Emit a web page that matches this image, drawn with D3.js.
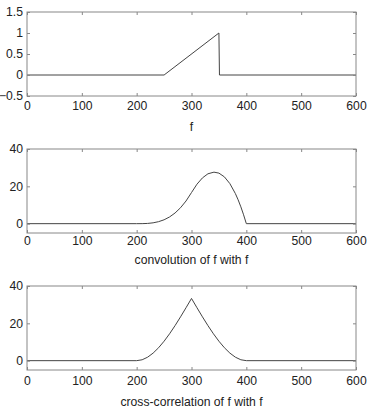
<!DOCTYPE html>
<html>
<head>
<meta charset="utf-8">
<script src="https://cdn.jsdelivr.net/npm/d3@7"></script>
<style>
  body { margin: 0; background: #fff; }
  svg { display: block; }
  text { font-family: "Liberation Sans", Arial, Helvetica, sans-serif; fill: #222; }
  .label { font-size: 12.2px; }
</style>
</head>
<body>
<svg width="371" height="416"></svg>
<script>
// f: ramp from 250 to 350 then drop
const fX = [0, 250, 350, 351, 600];
const fY = [0, 0, 1, 0, 0];

// convolution of f with f
const convX = [0, 200, 210, 220, 230, 240, 250, 260, 270, 280, 290, 300, 310, 320, 330, 341, 350, 360, 370, 380, 385, 390, 395, 400, 600];
const convY = [0, 0, 0.02, 0.13, 0.45, 1.07, 2.08, 3.6, 5.72, 8.53, 12.15, 16.67, 21.15, 24.53, 26.72, 27.6, 27.08, 25.07, 21.45, 16.13, 12.81, 9.02, 4.75, 0, 0];

// cross-correlation of f with f
const xcorrX = [0, 200, 210, 220, 230, 240, 250, 260, 270, 280, 290, 300, 310, 320, 330, 340, 350, 360, 370, 380, 390, 400, 600];
const xcorrY = [0, 0, 0.48, 1.87, 4.05, 6.93, 10.42, 14.4, 18.78, 23.47, 28.35, 33.33, 28.35, 23.47, 18.78, 14.4, 10.42, 6.93, 4.05, 1.87, 0.48, 0, 0];

const xTicks = [0, 100, 200, 300, 400, 500, 600];

const panels = [
    { xs: fX, ys: fY, top: 12, domain: [-0.5, 1.5], yTicks: [-0.5, 0, 0.5, 1, 1.5], label: 'f', tickGap: 17, labelGap: 35 },
    { xs: convX, ys: convY, top: 149, domain: [-5, 40], yTicks: [0, 20, 40], label: 'convolution of f with f', tickGap: 15, labelGap: 31 },
    { xs: xcorrX, ys: xcorrY, top: 286, domain: [-5, 40], yTicks: [0, 20, 40], label: 'cross-correlation of f with f', tickGap: 18, labelGap: 36 }
];

const svg = d3.select('svg');
const left = 27;
const width = 356 - left;
const height = 84;
const fontSize = '12.2px';

const xScale = d3.scaleLinear().domain([0, 600]).range([0, width]);

panels.forEach((p) => {
    const g = svg.append('g').attr('transform', `translate(${left}, ${p.top})`);
    const yScale = d3.scaleLinear().domain(p.domain).range([height, 0]);

    const line = d3.line()
        .x((d, i) => xScale(p.xs[i]))
        .y((d) => yScale(d));

    g.append('path')
        .datum(p.ys)
        .attr('d', line)
        .attr('fill', 'none')
        .attr('stroke', '#444')
        .attr('stroke-width', 1);

    // bottom axis with labels
    const bottom = g.append('g')
        .attr('transform', `translate(0, ${height})`)
        .call(d3.axisBottom(xScale).tickValues(xTicks).tickSizeInner(-3).tickSizeOuter(0).tickPadding(p.tickGap - 12));
    // left axis with labels
    const leftAx = g.append('g')
        .call(d3.axisLeft(yScale).tickValues(p.yTicks).tickFormat(d3.format('')).tickSizeInner(-3).tickSizeOuter(0).tickPadding(4));
    // mirrored ticks on top and right
    const topAx = g.append('g')
        .call(d3.axisTop(xScale).tickValues(xTicks).tickSizeInner(-3).tickSizeOuter(0).tickFormat(''));
    const rightAx = g.append('g')
        .attr('transform', `translate(${width}, 0)`)
        .call(d3.axisRight(yScale).tickValues(p.yTicks).tickSizeInner(-3).tickSizeOuter(0).tickFormat(''));

    [bottom, leftAx, topAx, rightAx].forEach((a) => {
        a.select('.domain').remove();
        a.selectAll('line').attr('stroke', '#888');
        a.selectAll('text').attr('fill', '#222').style('font-size', fontSize);
    });
    bottom.selectAll('text').attr('dy', '0.71em');

    g.append('rect')
        .attr('width', width)
        .attr('height', height)
        .attr('fill', 'none')
        .attr('stroke', '#888')
        .attr('stroke-width', 1);

    svg.append('text')
        .attr('class', 'label')
        .attr('x', left + width / 2)
        .attr('y', p.top + height + p.labelGap)
        .attr('text-anchor', 'middle')
        .text(p.label);
});
</script>
</body>
</html>
